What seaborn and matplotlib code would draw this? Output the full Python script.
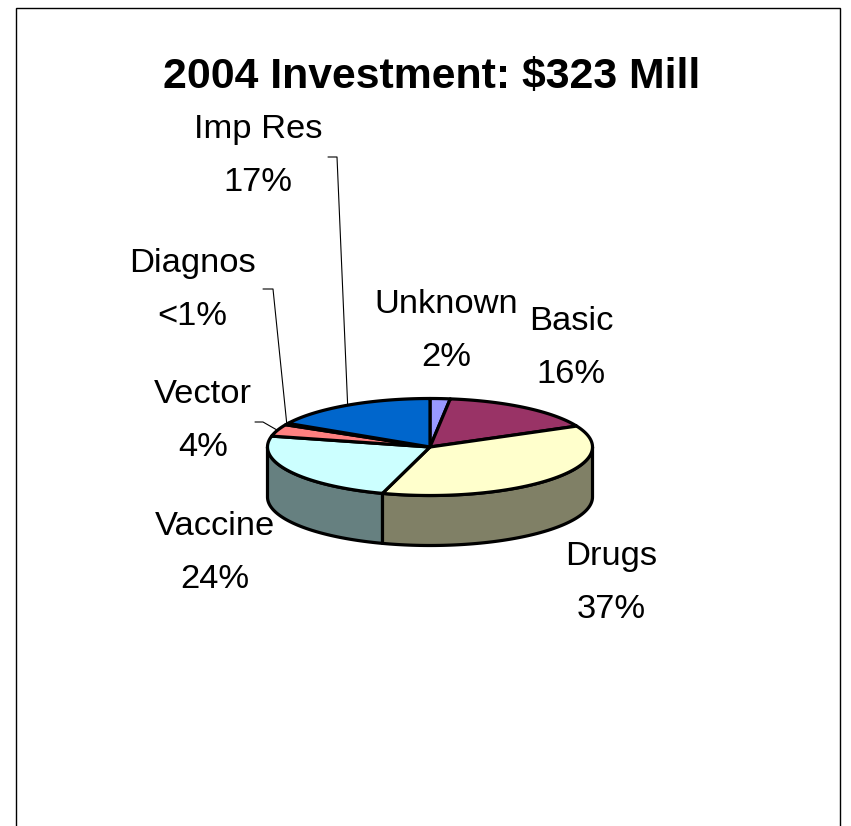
import numpy as np
import matplotlib
matplotlib.use("Agg")
import matplotlib.pyplot as plt
from matplotlib.patches import Polygon
from matplotlib import font_manager
import seaborn as sns

# ---------------- data ----------------
categories = ["Unknown", "Basic", "Drugs", "Vaccine", "Vector", "Diagnos", "Imp Res"]
values = [2, 16, 37, 24, 4, 0.5, 17]
pct_labels = ["2%", "16%", "37%", "24%", "4%", "<1%", "17%"]
title_text = "2004 Investment: $323 Mill"
top_colors = ["#9999FF", "#993366", "#FFFFCC", "#CCFFFF", "#FF8080", "#660066", "#0066CC"]

# ---------------- style ----------------
sns.set_theme(style="white")
plt.rcParams["font.family"] = ["Liberation Sans", "DejaVu Sans"]
plt.rcParams["text.color"] = "black"
palette = sns.color_palette(top_colors)


def has_font(name, weight="normal"):
    try:
        font_manager.findfont(font_manager.FontProperties(family=name, weight=weight),
                              fallback_to_default=False)
        return True
    except Exception:
        return False


narrow = has_font("Liberation Sans Narrow", "bold")

W, H = 851, 826
fig = plt.figure(figsize=(W / 100, H / 100), dpi=100)
ax = fig.add_axes([0, 0, 1, 1])
ax.set_xlim(0, W)
ax.set_ylim(H, 0)
ax.axis("off")

# frame
ax.plot([16, 16, 840, 840], [H + 5, 8, 8, H + 5], color="black", lw=1.0, solid_joinstyle="miter")

# pie geometry (pixel space)
cx, cy, a, b, depth = 430, 447, 162.5, 48.5, 50
lw_pie = 2.3


def ell(theta_deg, dz=0.0):
    t = np.deg2rad(theta_deg)
    return cx + a * np.cos(t), cy - b * np.sin(t) + dz


vals = np.array(values, dtype=float)
fr = vals / vals.sum()
cum = np.concatenate([[0], np.cumsum(fr)])
starts = 90 - 360 * cum[:-1]
ends = 90 - 360 * cum[1:]


def darker(c, f=0.5):
    return tuple(np.array(c) * f)


# side faces (front half only)
for i in range(len(values)):
    s, e = starts[i], ends[i]
    for k in (-1, 0, 1):
        lo, hi = -180 + 360 * k, 0 + 360 * k
        a0, a1 = max(e, lo), min(s, hi)
        if a1 - a0 > 1e-6:
            th = np.linspace(a1, a0, 80)
            xs, ys = ell(th)
            xb, yb = ell(th[::-1], depth)
            poly = np.column_stack([np.concatenate([xs, xb]), np.concatenate([ys, yb])])
            ax.add_patch(Polygon(poly, closed=True, facecolor=darker(palette[i]),
                                 edgecolor="black", lw=lw_pie, joinstyle="round"))

# top faces
for i in range(len(values)):
    th = np.linspace(starts[i], ends[i], max(4, int(abs(starts[i] - ends[i]) * 2)))
    xs, ys = ell(th)
    poly = np.column_stack([np.concatenate([[cx], xs]), np.concatenate([[cy], ys])])
    ax.add_patch(Polygon(poly, closed=True, facecolor=palette[i],
                         edgecolor="black", lw=lw_pie, joinstyle="round"))

# ---------------- labels ----------------
label_pos = {
    "Unknown": (446, 313), "Basic": (571, 330), "Drugs": (611, 565),
    "Vaccine": (215, 535), "Vector": (203, 403), "Diagnos": (192, 272),
    "Imp Res": (258, 138),
}
line_gap = 53
fs_label = 24.8
for name, pct in zip(categories, pct_labels):
    x, y = label_pos[name]
    ax.text(x, y, name, ha="center", va="baseline", fontsize=fs_label, color="black")
    ax.text(x, y + line_gap, pct, ha="center", va="baseline", fontsize=fs_label, color="black")

# leader lines to slice midpoints on rim
elbows = {
    "Imp Res": ((328, 157), (337, 157)),
    "Diagnos": ((263, 289), (273, 289)),
    "Vector": ((255, 422), (263, 422)),
}
for i, name in enumerate(categories):
    if name in elbows:
        mid = (starts[i] + ends[i]) / 2
        px, py = ell(mid)
        (x0, y0), (x1, y1) = elbows[name]
        ax.plot([x0, x1, px], [y0, y1, py], color="black", lw=0.8, zorder=5)

# ---------------- title ----------------
if narrow:
    ax.text(432, 88, title_text, ha="center", va="baseline", fontsize=37, color="black",
            fontweight="bold", family=["Liberation Sans Narrow", "Liberation Sans"])
else:
    ax.text(432, 88, title_text, ha="center", va="baseline", fontsize=30.8, color="black",
            fontweight="bold", family=["Liberation Sans", "DejaVu Sans"])

fig.savefig("out.png", dpi=100)
